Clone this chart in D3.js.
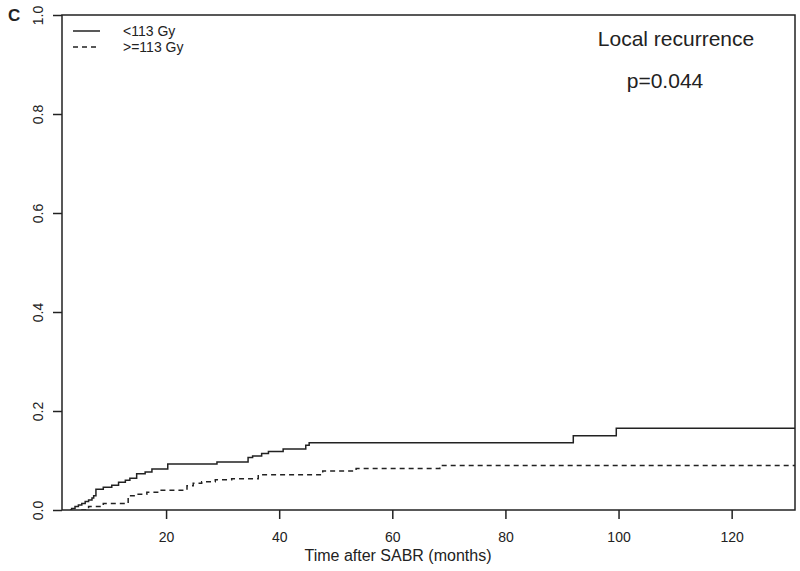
<!DOCTYPE html>
<html>
<head>
<meta charset="utf-8">
<script src="https://cdn.jsdelivr.net/npm/d3@7"></script>
<style>
  html, body { margin: 0; padding: 0; background: #fff; }
  svg { display: block; font-family: "Liberation Sans", Arial, sans-serif; }
</style>
</head>
<body>
<svg id="chart" width="800" height="571"></svg>
<script>
// ---- data ----
const seriesNames = ["<113 Gy", ">=113 Gy"];
const lowTimes  = [3.3, 3.9, 4.5, 5.1, 5.7, 6.3, 6.9, 7.2, 7.6, 8.9, 10.4, 11.6, 12.8, 13.6, 14.8, 16.3, 17.5, 20.3, 29.0, 34.5, 35.3, 36.9, 38.1, 40.7, 44.7, 45.3, 92.0, 99.6, 131.2];
const lowValues = [0.003, 0.007, 0.010, 0.013, 0.017, 0.020, 0.024, 0.029, 0.042, 0.046, 0.050, 0.056, 0.060, 0.064, 0.073, 0.077, 0.083, 0.093, 0.097, 0.106, 0.109, 0.114, 0.118, 0.123, 0.131, 0.136, 0.150, 0.165, 0.165];
const highTimes  = [5.3, 6.3, 8.9, 13.3, 14.5, 16.6, 18.9, 23.7, 24.8, 26.3, 28.7, 31.6, 36.3, 47.7, 53.6, 68.4, 131.2];
const highValues = [0.000, 0.007, 0.013, 0.029, 0.032, 0.036, 0.040, 0.049, 0.054, 0.057, 0.061, 0.063, 0.071, 0.079, 0.084, 0.090, 0.090];
const xTicks = [20, 40, 60, 80, 100, 120];
const yTicks = [0.0, 0.2, 0.4, 0.6, 0.8, 1.0];
const xDomain = [1.6, 131.2];
const yDomain = [0, 1];

// ---- layout ----
const svg = d3.select("#chart");
const L = 62, R = 795, T = 15, B = 510;
const ink = "#222";
const x = d3.scaleLinear().domain(xDomain).range([L, R]);
const y = d3.scaleLinear().domain(yDomain).range([B, T]);

// clip
svg.append("defs").append("clipPath").attr("id", "clip")
  .append("rect").attr("x", L).attr("y", T - 1).attr("width", R - L).attr("height", B - T + 1);

// curves
function toPoints(ts, vs, start) {
  const pts = [[start, 0]];
  ts.forEach((t, i) => pts.push([t, vs[i]]));
  return pts;
}
const line = d3.line().x(d => x(d[0])).y(d => y(d[1])).curve(d3.curveStepAfter);
const g = svg.append("g").attr("clip-path", "url(#clip)");
g.append("path").datum(toPoints(lowTimes, lowValues, 3.0))
  .attr("d", line).attr("fill", "none").attr("stroke", ink).attr("stroke-width", 1.5);
g.append("path").datum(toPoints(highTimes, highValues, 5.0))
  .attr("d", line).attr("fill", "none").attr("stroke", ink).attr("stroke-width", 1.5)
  .attr("stroke-dasharray", "5,4");

// x axis
const xAxis = svg.append("g").attr("transform", `translate(0,${B})`)
  .call(d3.axisBottom(x).tickValues(xTicks).tickSize(9).tickPadding(6).tickFormat(d3.format("d")));
xAxis.select(".domain").remove();
xAxis.selectAll("line").attr("stroke", ink).attr("stroke-width", 1.5);
xAxis.selectAll("text").attr("font-size", 14).attr("fill", ink)
  .attr("font-family", "Liberation Sans, Arial, sans-serif").attr("dy", null).attr("y", 32);

// y axis
const yAxis = svg.append("g").attr("transform", `translate(${L},0)`)
  .call(d3.axisLeft(y).tickValues(yTicks).tickSize(9).tickFormat(d3.format(".1f")));
yAxis.select(".domain").remove();
yAxis.selectAll("line").attr("stroke", ink).attr("stroke-width", 1.5);
yAxis.selectAll("text").attr("font-size", 14).attr("fill", ink)
  .attr("font-family", "Liberation Sans, Arial, sans-serif")
  .attr("x", null).attr("dy", null).attr("text-anchor", "middle")
  .attr("transform", "translate(-19,0) rotate(-90)");

// box
svg.append("rect").attr("x", L).attr("y", T).attr("width", R - L).attr("height", B - T)
  .attr("fill", "none").attr("stroke", ink).attr("stroke-width", 1.5);

// axis title
svg.append("text").attr("x", 398).attr("y", 561).attr("text-anchor", "middle")
  .attr("font-size", 16).attr("fill", ink).text("Time after SABR (months)");

// annotations
svg.append("text").attr("x", 676).attr("y", 46).attr("text-anchor", "middle")
  .attr("font-size", 21).attr("fill", ink).text("Local recurrence");
svg.append("text").attr("x", 665).attr("y", 88).attr("text-anchor", "middle")
  .attr("font-size", 21).attr("fill", ink).text("p=0.044");
svg.append("text").attr("x", 8).attr("y", 21).attr("font-size", 17).attr("font-weight", "bold")
  .attr("fill", ink).text("C");

// legend
const legY = [31, 47];
const dashes = [null, "5,4"];
seriesNames.forEach((name, i) => {
  svg.append("line").attr("x1", 73).attr("x2", 100).attr("y1", legY[i]).attr("y2", legY[i])
    .attr("stroke", ink).attr("stroke-width", 1.5).attr("stroke-dasharray", dashes[i]);
  svg.append("text").attr("x", 123).attr("y", legY[i] + 5).attr("font-size", 14)
    .attr("fill", ink).text(name);
});
</script>
</body>
</html>
